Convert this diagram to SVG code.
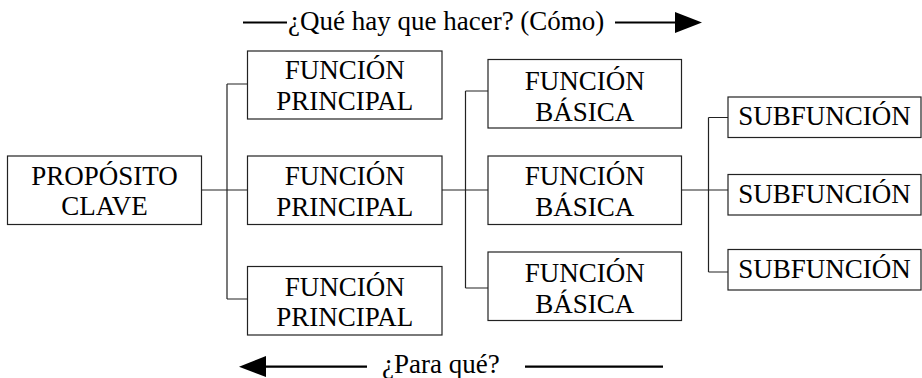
<svg xmlns="http://www.w3.org/2000/svg" width="922" height="378" viewBox="0 0 922 378">
<style>
.box{fill:#fff;stroke:#222;stroke-width:1.2}
.t{font-family:'Liberation Serif','Times New Roman',serif;font-size:27px;fill:#000;text-anchor:middle}
.lbl{font-family:'Liberation Serif','Times New Roman',serif;font-size:27px;fill:#000}
.c{fill:none;stroke:#222;stroke-width:1.2}
.a{stroke:#000;stroke-width:2.2;fill:none}
</style>
<rect width="922" height="378" fill="#fff"/>
<g id="connectors">
<path class="c" d="M202,190H247M227,84V299M227,84H247M227,299H247"/>
<path class="c" d="M442,190H488M465.5,91V288M465.5,91H488M465.5,288H488"/>
<path class="c" d="M682,190H728M708.5,117.5V272M708.5,117.5H728M708.5,272H728"/>
</g>
<g id="arrow-como">
<path class="a" d="M243,22.5H287M615,22.5H678"/>
<polygon points="675,12 702,22.5 675,33" fill="#000"/>
<text class="lbl" x="288" y="30">¿Qué hay que hacer? (Cómo)</text>
</g>
<g id="arrow-paraque">
<path class="a" d="M263,366.7H367M525,366.7H663"/>
<polygon points="266,356 239,366.7 266,377" fill="#000"/>
<text class="lbl" x="382" y="373">¿Para qué?</text>
</g>
<g id="proposito">
<rect class="box" x="7.5" y="156" width="194" height="68.5"/>
<text class="t" x="104.5" y="185">PROPÓSITO</text>
<text class="t" x="104.5" y="215">CLAVE</text>
</g>
<g id="fp1">
<rect class="box" x="247.5" y="51" width="194.5" height="68"/>
<text class="t" x="344.7" y="79">FUNCIÓN</text>
<text class="t" x="344.7" y="109.5">PRINCIPAL</text>
</g>
<g id="fp2">
<rect class="box" x="247.5" y="156" width="194.5" height="68.5"/>
<text class="t" x="344.7" y="185">FUNCIÓN</text>
<text class="t" x="344.7" y="215.5">PRINCIPAL</text>
</g>
<g id="fp3">
<rect class="box" x="247.5" y="266.5" width="194.5" height="68.5"/>
<text class="t" x="344.7" y="295.5">FUNCIÓN</text>
<text class="t" x="344.7" y="326">PRINCIPAL</text>
</g>
<g id="fb1">
<rect class="box" x="488" y="59.5" width="193.5" height="68.5"/>
<text class="t" x="584.7" y="90">FUNCIÓN</text>
<text class="t" x="584.7" y="121">BÁSICA</text>
</g>
<g id="fb2">
<rect class="box" x="488" y="156" width="193.5" height="68.5"/>
<text class="t" x="584.7" y="185">FUNCIÓN</text>
<text class="t" x="584.7" y="216">BÁSICA</text>
</g>
<g id="fb3">
<rect class="box" x="488" y="252" width="193.5" height="68.5"/>
<text class="t" x="584.7" y="282">FUNCIÓN</text>
<text class="t" x="584.7" y="313">BÁSICA</text>
</g>
<g id="sub1">
<rect class="box" x="728" y="97" width="193" height="40.5"/>
<text class="t" x="824.5" y="125">SUBFUNCIÓN</text>
</g>
<g id="sub2">
<rect class="box" x="728" y="174.5" width="193" height="40.5"/>
<text class="t" x="824.5" y="202.5">SUBFUNCIÓN</text>
</g>
<g id="sub3">
<rect class="box" x="728" y="249.5" width="193" height="40.5"/>
<text class="t" x="824.5" y="277.5">SUBFUNCIÓN</text>
</g>
</svg>
